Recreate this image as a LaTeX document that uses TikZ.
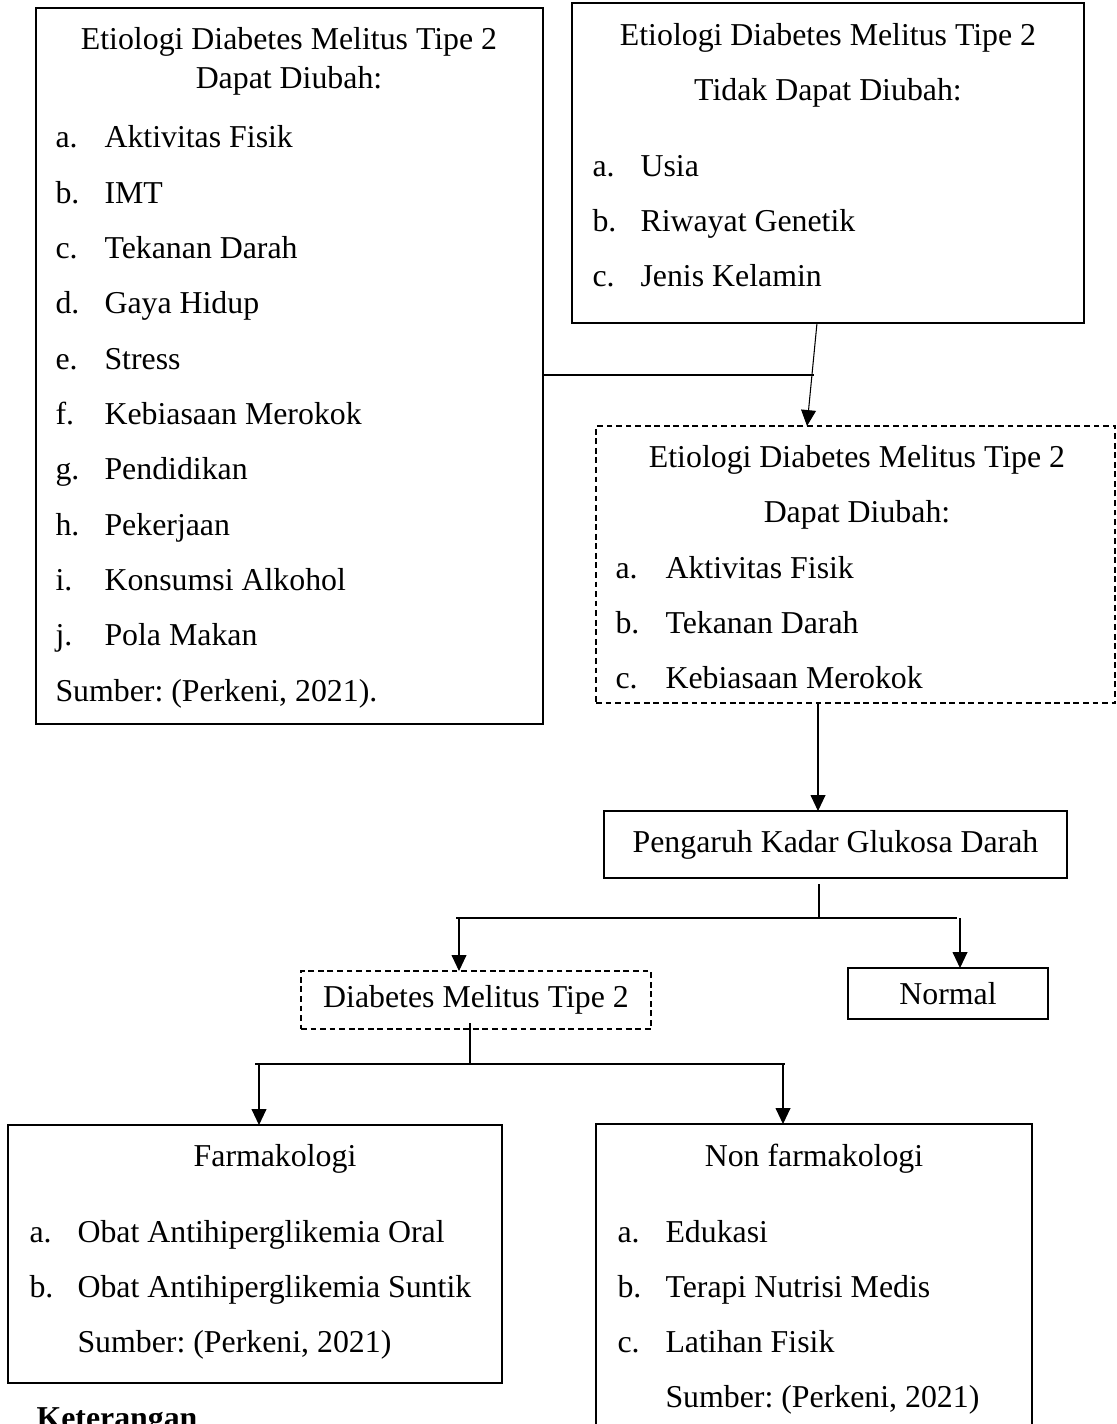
\documentclass[tikz,border=0pt]{standalone}
\usepackage{fontspec}
\setmainfont{Liberation Serif}
\usetikzlibrary{arrows.meta,positioning}
\newcommand{\px}{0.377pt}
\frenchspacing

\begin{document}
\begin{tikzpicture}[x=0.377pt, y=-0.377pt, >={Triangle[length=6pt,width=5.6pt]},
  box/.style={draw, line width=0.5pt, inner sep=0pt, outer sep=0pt, anchor=north west},
  dbox/.style={box, dash pattern=on 2.2pt off 1.4pt},
  txt/.style={inner sep=0pt, anchor=base},
  lbl/.style={inner sep=0pt, anchor=base west},
  bar/.style={line width=0.9pt},
  link/.style={->, line width=0.4pt},
  font=\fontsize{12}{14}\selectfont]
  \useasboundingbox (0,0) rectangle (1116,1424);

  \node[box, minimum width={507*\px}, minimum height={716*\px}] (etA) at (36,8) {};
  \node[txt] (etA-h1) at (289,50) {Etiologi Diabetes Melitus Tipe 2};
  \node[txt] (etA-h2) at (289,89) {Dapat Diubah:};
  \foreach \l/\t [count=\i from 0] in {a./Aktivitas Fisik, b./IMT, c./Tekanan Darah,
      d./Gaya Hidup, e./Stress, f./Kebiasaan Merokok, g./Pendidikan, h./Pekerjaan,
      i./Konsumsi Alkohol, j./Pola Makan}
  {
    \node[lbl] (etA-l\i) at (55,{148+55.3*\i}) {\l};
    \node[lbl] (etA-t\i) at (104,{148+55.3*\i}) {\t};
  }
  \node[lbl] (etA-src) at (55,701) {Sumber: (Perkeni, 2021).};

  \node[box, minimum width={512*\px}, minimum height={320*\px}] (etB) at (572,3) {};
  \node[txt] (etB-h1) at (828,46) {Etiologi Diabetes Melitus Tipe 2};
  \node[txt] (etB-h2) at (828,100) {Tidak Dapat Diubah:};
  \foreach \l/\t [count=\i from 0] in {a./Usia, b./Riwayat Genetik, c./Jenis Kelamin}
  {
    \node[lbl] (etB-l\i) at (592,{176+55*\i}) {\l};
    \node[lbl] (etB-t\i) at (640,{176+55*\i}) {\t};
  }

  \node[dbox, minimum width={519*\px}, minimum height={277*\px}] (etC) at (596,426) {};
  \node[txt] (etC-h1) at (857,467) {Etiologi Diabetes Melitus Tipe 2};
  \node[txt] (etC-h2) at (857,522) {Dapat Diubah:};
  \foreach \l/\t [count=\i from 0] in {a./Aktivitas Fisik, b./Tekanan Darah, c./Kebiasaan Merokok}
  {
    \node[lbl] (etC-l\i) at (615,{578+55*\i}) {\l};
    \node[lbl] (etC-t\i) at (665,{578+55*\i}) {\t};
  }

  \node[box, minimum width={463*\px}, minimum height={67*\px}] (pkg) at (604,811)
    {Pengaruh Kadar Glukosa Darah};
  \node[dbox, minimum width={350*\px}, minimum height={58*\px}] (dm) at (301,971)
    {Diabetes Melitus Tipe 2};
  \node[box, minimum width={200*\px}, minimum height={51*\px}] (nrm) at (848,968)
    {Normal};

  \node[box, minimum width={494*\px}, minimum height={258*\px}] (frm) at (8,1125) {};
  \node[txt] (frm-h) at (275,1166) {Farmakologi};
  \foreach \l/\t [count=\i from 0] in {a./Obat Antihiperglikemia Oral, b./Obat Antihiperglikemia Suntik}
  {
    \node[lbl] (frm-l\i) at (29,{1242+55*\i}) {\l};
    \node[lbl] (frm-t\i) at (77,{1242+55*\i}) {\t};
  }
  \node[lbl] (frm-src) at (77,1352) {Sumber: (Perkeni, 2021)};

  \node[box, minimum width={436*\px}, minimum height={340*\px}] (nfrm) at (596,1124) {};
  \node[txt] (nfrm-h) at (814,1166) {Non farmakologi};
  \foreach \l/\t [count=\i from 0] in {a./Edukasi, b./Terapi Nutrisi Medis, c./Latihan Fisik}
  {
    \node[lbl] (nfrm-l\i) at (617,{1242+55*\i}) {\l};
    \node[lbl] (nfrm-t\i) at (665,{1242+55*\i}) {\t};
  }
  \node[lbl] (nfrm-src) at (665,1407) {Sumber: (Perkeni, 2021)};

  \node[lbl, font=\fontsize{12}{14}\selectfont\bfseries] (ket) at (36,1428) {Keterangan};

  \coordinate (jnA) at (814,375);
  \draw[line width=0.4pt] (etA.east |- jnA) -- (jnA);
  \draw[link] (817,0 |- etB.south) -- (807,0 |- etC.north);
  \draw[link] (818,0 |- etC.south) -- (818,0 |- pkg.north);

  \coordinate (brA) at (819,918);
  \coordinate (brAl) at (456,918);
  \coordinate (brAr) at (957,918);
  \draw[line width=0.4pt] (819,884) -- (brA);
  \draw[bar] (brAl) -- (brAr);
  \draw[link] (459,918) -- (459,0 |- dm.north);
  \draw[link] (960,918) -- (960,0 |- nrm.north);

  \coordinate (brB) at (470,1064);
  \coordinate (brBl) at (255,1064);
  \coordinate (brBr) at (785,1064);
  \draw[line width=0.6pt] (470,1023) -- (brB);
  \draw[bar] (brBl) -- (brBr);
  \draw[link] (259,1064) -- (259,0 |- frm.north);
  \draw[link] (783,1064) -- (783,0 |- nfrm.north);
\end{tikzpicture}
\end{document}
